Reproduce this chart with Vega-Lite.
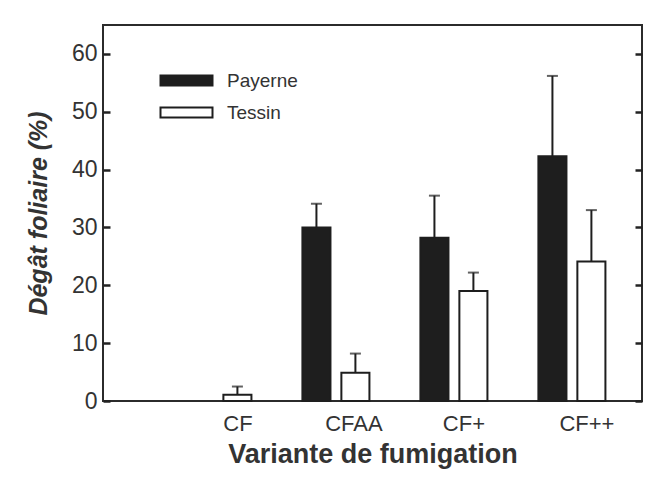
{
  "$schema": "https://vega.github.io/schema/vega-lite/v6.json",
  "autosize": "none",
  "width": 539,
  "height": 376,
  "padding": {"left": 103, "top": 25, "right": 18, "bottom": 92},
  "background": "white",
  "data": {
    "values": [
      {"variante": "CF", "site": "Tessin", "mean": 1.1, "upper": 2.5},
      {"variante": "CFAA", "site": "Payerne", "mean": 30.0, "upper": 34.1},
      {"variante": "CFAA", "site": "Tessin", "mean": 4.9, "upper": 8.2},
      {"variante": "CF+", "site": "Payerne", "mean": 28.2, "upper": 35.5},
      {"variante": "CF+", "site": "Tessin", "mean": 19.0, "upper": 22.2},
      {"variante": "CF++", "site": "Payerne", "mean": 42.3, "upper": 56.2},
      {"variante": "CF++", "site": "Tessin", "mean": 24.1, "upper": 33.0}
    ]
  },
  "encoding": {
    "x": {
      "field": "variante",
      "type": "nominal",
      "sort": ["CF", "CFAA", "CF+", "CF++"],
      "scale": {"domain": ["CF", "CFAA", "CF+", "CF++"], "paddingInner": 0.432, "paddingOuter": 0.5, "align": 0.69, "round": false},
      "axis": {
        "title": "Variante de fumigation",
        "labelAngle": 0,
        "ticks": false,
        "domain": false,
        "labelFont": "Liberation Sans",
        "labelFontSize": 22,
        "labelColor": "#333",
        "labelPadding": 12,
        "labelOffset": {"condition": [
          {"test": "datum.value === 'CF'", "value": 20},
          {"test": "datum.value === 'CFAA'", "value": 18},
          {"test": "datum.value === 'CF+'", "value": 10}
        ], "value": 15},
        "titleFont": "Liberation Sans",
        "titleFontSize": 27,
        "titleFontWeight": "bold",
        "titleColor": "#333",
        "titlePadding": 7
      }
    },
    "xOffset": {
      "field": "site",
      "type": "nominal",
      "scale": {"domain": ["Payerne", "Tessin"], "paddingInner": 0.28, "paddingOuter": 0}
    }
  },
  "layer": [
    {
      "mark": {"type": "bar", "stroke": "#1e1e1e", "strokeWidth": 2},
      "encoding": {
        "y": {
          "field": "mean",
          "type": "quantitative",
          "scale": {"domain": [0, 65], "nice": false},
          "axis": {
            "title": "Dégât foliaire (%)",
            "values": [0, 10, 20, 30, 40, 50, 60],
            "grid": false,
            "domain": false,
            "ticks": true,
            "offset": -7,
            "tickSize": 7,
            "tickWidth": 2.5,
            "tickColor": "#222",
            "labelPadding": 6,
            "labelFont": "Liberation Sans",
            "labelFontSize": 23,
            "labelColor": "#333",
            "titleFont": "Liberation Sans",
            "titleFontSize": 25,
            "titleFontWeight": "bold",
            "titleFontStyle": "italic",
            "titleColor": "#333",
            "titlePadding": 20
          }
        },
        "fill": {
          "field": "site",
          "type": "nominal",
          "scale": {"domain": ["Payerne", "Tessin"], "range": ["#1e1e1e", "#ffffff"]},
          "legend": {
            "title": null,
            "orient": "none",
            "legendX": 74,
            "legendY": 46,
            "symbolType": "M-5.2,-1H5.2V1H-5.2Z",
            "symbolSize": 100,
            "symbolStrokeColor": "#1e1e1e",
            "symbolStrokeWidth": 2,
            "labelOffset": 31,
            "labelFont": "Liberation Sans",
            "labelFontSize": 19,
            "labelColor": "#333",
            "rowPadding": 12,
            "padding": 0
          }
        }
      }
    },
    {
      "mark": {"type": "rule", "color": "#1e1e1e", "strokeWidth": 2},
      "encoding": {
        "y": {
          "field": "mean",
          "type": "quantitative",
          "axis": {
            "orient": "right",
            "title": null,
            "labels": false,
            "values": [0, 10, 20, 30, 40, 50, 60],
            "grid": false,
            "domain": false,
            "ticks": true,
            "offset": -7,
            "tickSize": 7,
            "tickWidth": 2.5,
            "tickColor": "#222"
          }
        },
        "y2": {"field": "upper"}
      }
    },
    {
      "mark": {"type": "tick", "color": "#1e1e1e", "thickness": 2, "size": 11},
      "encoding": {
        "y": {"field": "upper", "type": "quantitative", "axis": null}
      }
    }
  ],
  "resolve": {"axis": {"y": "independent"}},
  "config": {
    "view": {"stroke": "#2b2b2b", "strokeWidth": 2}
  }
}
